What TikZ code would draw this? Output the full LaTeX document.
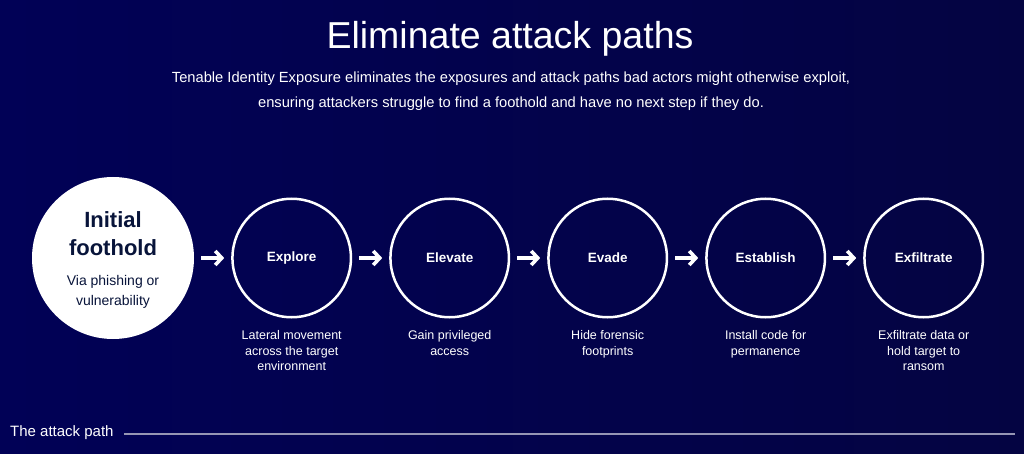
\documentclass[tikz,border=0pt]{standalone}
\usepackage{fontspec}
\setmainfont{Liberation Sans}
\usepackage{xcolor}
\usetikzlibrary{arrows.meta, positioning}
\definecolor{nightblue}{RGB}{1, 1, 86}
\definecolor{deepnight}{RGB}{4, 4, 66}
\definecolor{inkblue}{RGB}{8, 20, 58}
\definecolor{rulegrey}{RGB}{150, 150, 180}

\begin{document}
\begin{tikzpicture}[
    x=1pt, y=-1pt,
    stage/.style={circle, draw=white, line width=2.5pt, minimum size=118.5pt,
                  inner sep=0pt, text=white,
                  font=\bfseries\fontsize{13.5}{16}\selectfont},
    entry/.style={circle, fill=white, minimum size=162pt, inner sep=0pt},
    caption/.style={text=white, align=center, inner sep=0pt,
                    font=\fontsize{12.5}{15.5}\selectfont},
    flow/.style={draw=white, line width=3.6pt,
                 -{Straight Barb[length=6.5pt, width=14pt]},
                 shorten <=7pt, shorten >=7pt},
    node distance=37pt
]
    % backdrop and page size
    \shade[left color=nightblue, right color=deepnight] (0,0) rectangle (1024,454);
    \useasboundingbox (0,0) rectangle (1024,454);

    \node[text=white, anchor=base, inner sep=0pt,
          font=\fontsize{37.5}{42}\selectfont] (title) at (510,49) {Eliminate attack paths};
    \node[text=white, anchor=north, align=center, inner sep=0pt,
          font=\fontsize{14.7}{24.5}\selectfont] (blurb) at (511,72) {
        Tenable Identity Exposure eliminates the exposures and attack paths bad actors might otherwise exploit,\\
        ensuring attackers struggle to find a foothold and have no next step if they do.
    };

    % the attack path stages
    \node[entry] (init) at (113,258) {};
    \node[text=inkblue, align=center, inner sep=0pt,
          font=\bfseries\fontsize{22}{28}\selectfont] (inittitle) at ([yshift=24pt]init.center) {Initial\\foothold};
    \node[text=inkblue, align=center, inner sep=0pt, below=19pt of inittitle,
          font=\fontsize{14}{20}\selectfont] (initnote) {Via phishing or\\vulnerability};

    \node[stage, right=of init] (explore) {Explore};
    \node[stage, right=of explore] (elevate) {Elevate};
    \node[stage, right=of elevate] (evade) {Evade};
    \node[stage, right=of evade] (establish) {Establish};
    \node[stage, right=of establish] (exfiltrate) {Exfiltrate};

    \node[caption, below=12pt of explore] (explorenote) {Lateral movement\\across the target\\environment};
    \node[caption, below=12pt of elevate] (elevatenote) {Gain privileged\\access};
    \node[caption, below=12pt of evade] (evadenote) {Hide forensic\\footprints};
    \node[caption, below=12pt of establish] (establishnote) {Install code for\\permanence};
    \node[caption, below=12pt of exfiltrate] (exfiltratenote) {Exfiltrate data or\\hold target to\\ransom};

    \foreach \from/\to in {init/explore, explore/elevate, elevate/evade,
                           evade/establish, establish/exfiltrate}
        \draw[flow] (\from) -- (\to);

    % footer rule
    \node[text=white, anchor=base west, inner sep=0pt,
          font=\fontsize{15}{17}\selectfont] (pathlabel) at (10,436) {The attack path};
    \coordinate[right=10pt of pathlabel] (rulestart);
    \coordinate (ruleend) at (1015,434);
    \draw[rulegrey, line width=1.2pt] (rulestart |- ruleend) -- (ruleend);
\end{tikzpicture}
\end{document}
